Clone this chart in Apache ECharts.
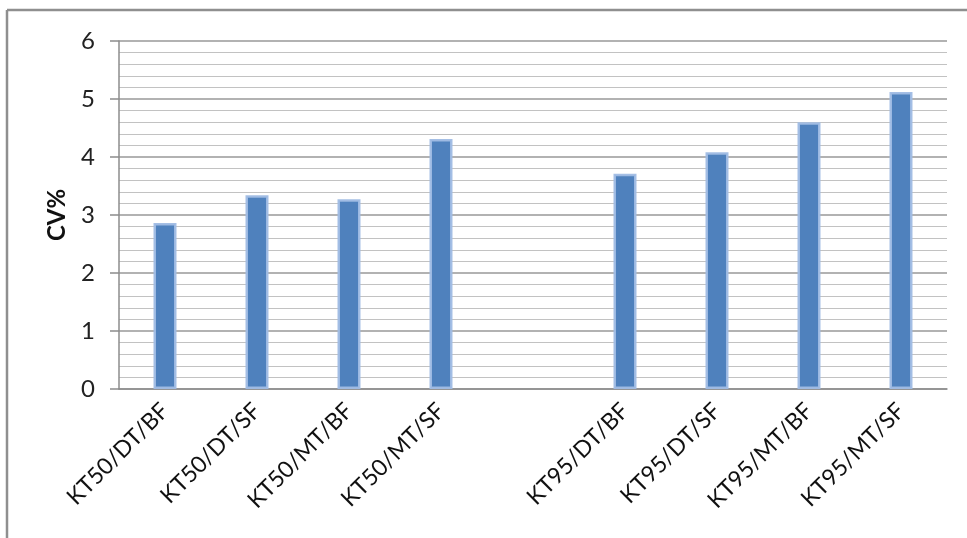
<!DOCTYPE html>
<html>
<head>
<meta charset="utf-8">
<script src="https://cdn.jsdelivr.net/npm/echarts@6/dist/echarts.min.js"></script>
<style>
  html, body { margin: 0; padding: 0; background: #fff; }
  #chart { width: 967px; height: 538px; }
</style>
</head>
<body>
<div id="chart"></div>
<script>
// Treatment combinations; the empty slot separates the KT50 and KT95 groups
const categories = [
  'KT50/DT/BF', 'KT50/DT/SF', 'KT50/MT/BF', 'KT50/MT/SF', '',
  'KT95/DT/BF', 'KT95/DT/SF', 'KT95/MT/BF', 'KT95/MT/SF'
];
// Coefficient of variation (%) per combination
const cvValues = [2.86, 3.34, 3.27, 4.31, null, 3.71, 4.08, 4.60, 5.12];
const yTicks = { min: 0, max: 6, step: 1 };

const FONT = 'Lato, "Open Sans", sans-serif';
const chart = echarts.init(document.getElementById('chart'));

chart.setOption({
  animation: false,
  backgroundColor: '#ffffff',
  grid: { left: 119, right: 20, top: 41, bottom: 149 },
  graphic: [
    { type: 'line', shape: { x1: 7, y1: 10, x2: 967, y2: 10 },
      style: { stroke: '#8f8f8f', lineWidth: 2.5 } },
    { type: 'line', shape: { x1: 7, y1: 10, x2: 7, y2: 538 },
      style: { stroke: '#8f8f8f', lineWidth: 2.5 } }
  ],
  xAxis: {
    type: 'category',
    data: categories,
    axisLine: { lineStyle: { color: '#8c8c8c', width: 1.5 } },
    axisTick: { show: false },
    axisLabel: {
      interval: 0,
      rotate: 45,
      margin: 18,
      color: '#111',
      fontFamily: FONT,
      fontSize: 23
    }
  },
  yAxis: {
    type: 'value',
    min: yTicks.min,
    max: yTicks.max,
    interval: yTicks.step,
    name: 'CV%',
    nameLocation: 'middle',
    nameGap: 50,
    nameTextStyle: { color: '#111', fontFamily: FONT, fontSize: 24, fontWeight: 'bold' },
    axisLine: { show: true, lineStyle: { color: '#8c8c8c', width: 1.5 } },
    axisTick: { show: true, inside: false, length: 9, lineStyle: { color: '#8c8c8c', width: 1.5 } },
    axisLabel: { margin: 24, color: '#222', fontFamily: FONT, fontSize: 24 },
    splitLine: { show: true, lineStyle: { color: '#989898', width: 1.5 } },
    minorTick: { show: false, splitNumber: 5 },
    minorSplitLine: { show: true, lineStyle: { color: '#c2c2c2', width: 1.2 } }
  },
  series: [{
    type: 'bar',
    data: cvValues,
    barWidth: 23,
    itemStyle: {
      color: '#4f81bd',
      borderColor: 'rgba(160,188,228,0.95)',
      borderWidth: 2.5
    }
  }]
});
</script>
</body>
</html>
